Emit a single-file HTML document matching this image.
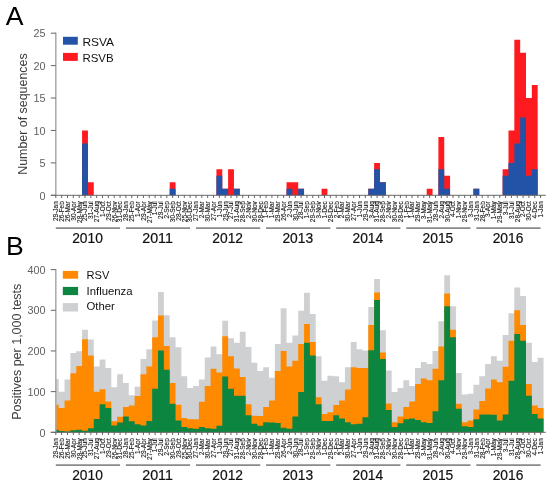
<!DOCTYPE html>
<html><head><meta charset="utf-8"><style>
html,body{margin:0;padding:0;background:#fff;}
body{width:550px;height:487px;overflow:hidden;font-family:"Liberation Sans",sans-serif;}
svg{display:block;will-change:transform;}
</style></head><body>
<svg width="550" height="487" viewBox="0 0 550 487">
<rect width="550" height="487" fill="#fff"/>
<text x="5.8" y="24.6" font-size="26.6" fill="#000" font-family="'Liberation Sans', sans-serif">A</text>
<text x="6.0" y="255.4" font-size="26.6" fill="#000" font-family="'Liberation Sans', sans-serif">B</text>
<path d="M52.88,195.30 L52.88,195.30 L58.72,195.30 L58.72,195.30 L64.56,195.30 L64.56,195.30 L70.40,195.30 L70.40,195.30 L76.24,195.30 L76.24,195.30 L82.08,195.30 L82.08,130.46 L87.93,130.46 L87.93,182.33 L93.77,182.33 L93.77,195.30 L99.61,195.30 L99.61,195.30 L105.45,195.30 L105.45,195.30 L111.29,195.30 L111.29,195.30 L117.13,195.30 L117.13,195.30 L122.97,195.30 L122.97,195.30 L128.81,195.30 L128.81,195.30 L134.65,195.30 L134.65,195.30 L140.49,195.30 L140.49,195.30 L146.34,195.30 L146.34,195.30 L152.18,195.30 L152.18,195.30 L158.02,195.30 L158.02,195.30 L163.86,195.30 L163.86,195.30 L169.70,195.30 L169.70,182.33 L175.54,182.33 L175.54,195.30 L181.38,195.30 L181.38,195.30 L187.22,195.30 L187.22,195.30 L193.06,195.30 L193.06,195.30 L198.90,195.30 L198.90,195.30 L204.75,195.30 L204.75,195.30 L210.59,195.30 L210.59,195.30 L216.43,195.30 L216.43,169.36 L222.27,169.36 L222.27,188.82 L228.11,188.82 L228.11,169.36 L233.95,169.36 L233.95,188.82 L239.79,188.82 L239.79,195.30 L245.63,195.30 L245.63,195.30 L251.47,195.30 L251.47,195.30 L257.31,195.30 L257.31,195.30 L263.16,195.30 L263.16,195.30 L269.00,195.30 L269.00,195.30 L274.84,195.30 L274.84,195.30 L280.68,195.30 L280.68,195.30 L286.52,195.30 L286.52,182.33 L292.36,182.33 L292.36,182.33 L298.20,182.33 L298.20,188.82 L304.04,188.82 L304.04,195.30 L309.88,195.30 L309.88,195.30 L315.72,195.30 L315.72,195.30 L321.57,195.30 L321.57,188.82 L327.41,188.82 L327.41,195.30 L333.25,195.30 L333.25,195.30 L339.09,195.30 L339.09,195.30 L344.93,195.30 L344.93,195.30 L350.77,195.30 L350.77,195.30 L356.61,195.30 L356.61,195.30 L362.45,195.30 L362.45,195.30 L368.29,195.30 L368.29,188.82 L374.13,188.82 L374.13,162.88 L379.98,162.88 L379.98,182.33 L385.82,182.33 L385.82,195.30 L391.66,195.30 L391.66,195.30 L397.50,195.30 L397.50,195.30 L403.34,195.30 L403.34,195.30 L409.18,195.30 L409.18,195.30 L415.02,195.30 L415.02,195.30 L420.86,195.30 L420.86,195.30 L426.70,195.30 L426.70,188.82 L432.54,188.82 L432.54,195.30 L438.39,195.30 L438.39,136.94 L444.23,136.94 L444.23,175.85 L450.07,175.85 L450.07,195.30 L455.91,195.30 L455.91,195.30 L461.75,195.30 L461.75,195.30 L467.59,195.30 L467.59,195.30 L473.43,195.30 L473.43,188.82 L479.27,188.82 L479.27,195.30 L485.11,195.30 L485.11,195.30 L490.95,195.30 L490.95,195.30 L496.80,195.30 L496.80,195.30 L502.64,195.30 L502.64,169.36 L508.48,169.36 L508.48,130.46 L514.32,130.46 L514.32,39.68 L520.16,39.68 L520.16,52.65 L526.00,52.65 L526.00,98.04 L531.84,98.04 L531.84,85.07 L537.68,85.07 L537.68,195.30 L543.52,195.30 L543.52,195.30 Z" fill="#ff1a1f"/>
<path d="M52.88,195.30 L52.88,195.30 L58.72,195.30 L58.72,195.30 L64.56,195.30 L64.56,195.30 L70.40,195.30 L70.40,195.30 L76.24,195.30 L76.24,195.30 L82.08,195.30 L82.08,143.43 L87.93,143.43 L87.93,195.30 L93.77,195.30 L93.77,195.30 L99.61,195.30 L99.61,195.30 L105.45,195.30 L105.45,195.30 L111.29,195.30 L111.29,195.30 L117.13,195.30 L117.13,195.30 L122.97,195.30 L122.97,195.30 L128.81,195.30 L128.81,195.30 L134.65,195.30 L134.65,195.30 L140.49,195.30 L140.49,195.30 L146.34,195.30 L146.34,195.30 L152.18,195.30 L152.18,195.30 L158.02,195.30 L158.02,195.30 L163.86,195.30 L163.86,195.30 L169.70,195.30 L169.70,188.82 L175.54,188.82 L175.54,195.30 L181.38,195.30 L181.38,195.30 L187.22,195.30 L187.22,195.30 L193.06,195.30 L193.06,195.30 L198.90,195.30 L198.90,195.30 L204.75,195.30 L204.75,195.30 L210.59,195.30 L210.59,195.30 L216.43,195.30 L216.43,175.85 L222.27,175.85 L222.27,188.82 L228.11,188.82 L228.11,195.30 L233.95,195.30 L233.95,188.82 L239.79,188.82 L239.79,195.30 L245.63,195.30 L245.63,195.30 L251.47,195.30 L251.47,195.30 L257.31,195.30 L257.31,195.30 L263.16,195.30 L263.16,195.30 L269.00,195.30 L269.00,195.30 L274.84,195.30 L274.84,195.30 L280.68,195.30 L280.68,195.30 L286.52,195.30 L286.52,188.82 L292.36,188.82 L292.36,195.30 L298.20,195.30 L298.20,188.82 L304.04,188.82 L304.04,195.30 L309.88,195.30 L309.88,195.30 L315.72,195.30 L315.72,195.30 L321.57,195.30 L321.57,195.30 L327.41,195.30 L327.41,195.30 L333.25,195.30 L333.25,195.30 L339.09,195.30 L339.09,195.30 L344.93,195.30 L344.93,195.30 L350.77,195.30 L350.77,195.30 L356.61,195.30 L356.61,195.30 L362.45,195.30 L362.45,195.30 L368.29,195.30 L368.29,188.82 L374.13,188.82 L374.13,169.36 L379.98,169.36 L379.98,182.33 L385.82,182.33 L385.82,195.30 L391.66,195.30 L391.66,195.30 L397.50,195.30 L397.50,195.30 L403.34,195.30 L403.34,195.30 L409.18,195.30 L409.18,195.30 L415.02,195.30 L415.02,195.30 L420.86,195.30 L420.86,195.30 L426.70,195.30 L426.70,195.30 L432.54,195.30 L432.54,195.30 L438.39,195.30 L438.39,169.36 L444.23,169.36 L444.23,188.82 L450.07,188.82 L450.07,195.30 L455.91,195.30 L455.91,195.30 L461.75,195.30 L461.75,195.30 L467.59,195.30 L467.59,195.30 L473.43,195.30 L473.43,188.82 L479.27,188.82 L479.27,195.30 L485.11,195.30 L485.11,195.30 L490.95,195.30 L490.95,195.30 L496.80,195.30 L496.80,195.30 L502.64,195.30 L502.64,175.85 L508.48,175.85 L508.48,162.88 L514.32,162.88 L514.32,143.43 L520.16,143.43 L520.16,117.49 L526.00,117.49 L526.00,175.85 L531.84,175.85 L531.84,169.36 L537.68,169.36 L537.68,195.30 L543.52,195.30 L543.52,195.30 Z" fill="#2253a6"/>
<path d="M55.80,432.30 L55.80,379.02 L58.72,379.02 L58.72,391.63 L64.56,391.63 L64.56,379.43 L70.40,379.43 L70.40,352.99 L76.24,352.99 L76.24,351.37 L82.08,351.37 L82.08,329.81 L87.93,329.81 L87.93,339.57 L93.77,339.57 L93.77,366.41 L99.61,366.41 L99.61,359.50 L105.45,359.50 L105.45,368.04 L111.29,368.04 L111.29,387.16 L117.13,387.16 L117.13,374.14 L122.97,374.14 L122.97,383.09 L128.81,383.09 L128.81,395.29 L134.65,395.29 L134.65,386.75 L140.49,386.75 L140.49,359.09 L146.34,359.09 L146.34,349.33 L152.18,349.33 L152.18,320.46 L158.02,320.46 L158.02,291.99 L163.86,291.99 L163.86,315.17 L169.70,315.17 L169.70,337.13 L175.54,337.13 L175.54,347.30 L181.38,347.30 L181.38,376.18 L187.22,376.18 L187.22,387.97 L193.06,387.97 L193.06,385.94 L198.90,385.94 L198.90,379.43 L204.75,379.43 L204.75,357.47 L210.59,357.47 L210.59,346.49 L216.43,346.49 L216.43,354.21 L222.27,354.21 L222.27,320.86 L228.11,320.86 L228.11,338.35 L233.95,338.35 L233.95,342.83 L239.79,342.83 L239.79,331.85 L245.63,331.85 L245.63,346.89 L251.47,346.89 L251.47,362.75 L257.31,362.75 L257.31,370.89 L263.16,370.89 L263.16,367.23 L269.00,367.23 L269.00,377.80 L274.84,377.80 L274.84,344.05 L280.68,344.05 L280.68,308.26 L286.52,308.26 L286.52,342.83 L292.36,342.83 L292.36,335.51 L298.20,335.51 L298.20,310.70 L304.04,310.70 L304.04,292.80 L309.88,292.80 L309.88,313.95 L315.72,313.95 L315.72,356.25 L321.57,356.25 L321.57,380.65 L327.41,380.65 L327.41,375.77 L333.25,375.77 L333.25,376.18 L339.09,376.18 L339.09,382.28 L344.93,382.28 L344.93,367.23 L350.77,367.23 L350.77,342.01 L356.61,342.01 L356.61,349.33 L362.45,349.33 L362.45,350.55 L368.29,350.55 L368.29,307.04 L374.13,307.04 L374.13,278.97 L379.98,278.97 L379.98,330.22 L385.82,330.22 L385.82,370.48 L391.66,370.48 L391.66,392.04 L397.50,392.04 L397.50,387.97 L403.34,387.97 L403.34,380.24 L409.18,380.24 L409.18,385.94 L415.02,385.94 L415.02,368.04 L420.86,368.04 L420.86,361.94 L426.70,361.94 L426.70,363.97 L432.54,363.97 L432.54,350.96 L438.39,350.96 L438.39,321.27 L444.23,321.27 L444.23,275.31 L450.07,275.31 L450.07,306.22 L455.91,306.22 L455.91,372.92 L461.75,372.92 L461.75,394.48 L467.59,394.48 L467.59,393.66 L473.43,393.66 L473.43,384.72 L479.27,384.72 L479.27,376.18 L485.11,376.18 L485.11,363.97 L490.95,363.97 L490.95,356.25 L496.80,356.25 L496.80,360.72 L502.64,360.72 L502.64,335.10 L508.48,335.10 L508.48,313.14 L514.32,313.14 L514.32,287.51 L520.16,287.51 L520.16,296.06 L526.00,296.06 L526.00,342.83 L531.84,342.83 L531.84,361.94 L537.68,361.94 L537.68,357.87 L543.52,357.87 L543.52,432.30 Z" fill="#cfd0d2"/>
<path d="M55.80,432.30 L55.80,404.64 L58.72,404.64 L58.72,407.90 L64.56,407.90 L64.56,400.58 L70.40,400.58 L70.40,373.33 L76.24,373.33 L76.24,366.01 L82.08,366.01 L82.08,339.17 L87.93,339.17 L87.93,355.43 L93.77,355.43 L93.77,391.63 L99.61,391.63 L99.61,389.19 L105.45,389.19 L105.45,401.39 L111.29,401.39 L111.29,421.32 L117.13,421.32 L117.13,416.85 L122.97,416.85 L122.97,407.08 L128.81,407.08 L128.81,405.46 L134.65,405.46 L134.65,396.10 L140.49,396.10 L140.49,374.14 L146.34,374.14 L146.34,366.41 L152.18,366.41 L152.18,337.13 L158.02,337.13 L158.02,315.58 L163.86,315.58 L163.86,346.08 L169.70,346.08 L169.70,383.09 L175.54,383.09 L175.54,404.64 L181.38,404.64 L181.38,418.07 L187.22,418.07 L187.22,419.29 L193.06,419.29 L193.06,419.29 L198.90,419.29 L198.90,401.80 L204.75,401.80 L204.75,385.94 L210.59,385.94 L210.59,368.85 L216.43,368.85 L216.43,372.52 L222.27,372.52 L222.27,336.32 L228.11,336.32 L228.11,356.25 L233.95,356.25 L233.95,368.45 L239.79,368.45 L239.79,376.99 L245.63,376.99 L245.63,404.24 L251.47,404.24 L251.47,415.63 L257.31,415.63 L257.31,416.03 L263.16,416.03 L263.16,407.08 L269.00,407.08 L269.00,400.58 L274.84,400.58 L274.84,370.89 L280.68,370.89 L280.68,350.96 L286.52,350.96 L286.52,366.41 L292.36,366.41 L292.36,360.72 L298.20,360.72 L298.20,344.05 L304.04,344.05 L304.04,324.12 L309.88,324.12 L309.88,342.01 L315.72,342.01 L315.72,397.32 L321.57,397.32 L321.57,414.00 L327.41,414.00 L327.41,412.37 L333.25,412.37 L333.25,405.05 L339.09,405.05 L339.09,400.58 L344.93,400.58 L344.93,389.60 L350.77,389.60 L350.77,367.23 L356.61,367.23 L356.61,368.04 L362.45,368.04 L362.45,368.04 L368.29,368.04 L368.29,324.93 L374.13,324.93 L374.13,292.40 L379.98,292.40 L379.98,352.59 L385.82,352.59 L385.82,403.42 L391.66,403.42 L391.66,422.13 L397.50,422.13 L397.50,416.44 L403.34,416.44 L403.34,407.08 L409.18,407.08 L409.18,401.39 L415.02,401.39 L415.02,383.90 L420.86,383.90 L420.86,378.62 L426.70,378.62 L426.70,380.24 L432.54,380.24 L432.54,368.85 L438.39,368.85 L438.39,346.49 L444.23,346.49 L444.23,293.62 L450.07,293.62 L450.07,329.81 L455.91,329.81 L455.91,403.83 L461.75,403.83 L461.75,422.13 L467.59,422.13 L467.59,420.51 L473.43,420.51 L473.43,409.52 L479.27,409.52 L479.27,400.98 L485.11,400.98 L485.11,388.38 L490.95,388.38 L490.95,379.43 L496.80,379.43 L496.80,382.28 L502.64,382.28 L502.64,366.82 L508.48,366.82 L508.48,340.79 L514.32,340.79 L514.32,310.29 L520.16,310.29 L520.16,324.93 L526.00,324.93 L526.00,383.90 L531.84,383.90 L531.84,405.46 L537.68,405.46 L537.68,407.90 L543.52,407.90 L543.52,432.30 Z" fill="#ff8a00"/>
<path d="M55.80,432.30 L55.80,429.86 L58.72,429.86 L58.72,431.08 L64.56,431.08 L64.56,431.49 L70.40,431.49 L70.40,430.27 L76.24,430.27 L76.24,429.86 L82.08,429.86 L82.08,430.67 L87.93,430.67 L87.93,428.23 L93.77,428.23 L93.77,418.88 L99.61,418.88 L99.61,404.24 L105.45,404.24 L105.45,407.90 L111.29,407.90 L111.29,425.39 L117.13,425.39 L117.13,422.54 L122.97,422.54 L122.97,416.44 L128.81,416.44 L128.81,421.32 L134.65,421.32 L134.65,424.17 L140.49,424.17 L140.49,425.39 L146.34,425.39 L146.34,420.91 L152.18,420.91 L152.18,388.78 L158.02,388.78 L158.02,350.55 L163.86,350.55 L163.86,369.67 L169.70,369.67 L169.70,403.83 L175.54,403.83 L175.54,420.51 L181.38,420.51 L181.38,427.01 L187.22,427.01 L187.22,428.23 L193.06,428.23 L193.06,428.64 L198.90,428.64 L198.90,427.01 L204.75,427.01 L204.75,428.23 L210.59,428.23 L210.59,428.64 L216.43,428.64 L216.43,425.79 L222.27,425.79 L222.27,376.58 L228.11,376.58 L228.11,388.78 L233.95,388.78 L233.95,395.70 L239.79,395.70 L239.79,395.70 L245.63,395.70 L245.63,415.22 L251.47,415.22 L251.47,423.76 L257.31,423.76 L257.31,425.79 L263.16,425.79 L263.16,422.13 L269.00,422.13 L269.00,422.54 L274.84,422.54 L274.84,422.95 L280.68,422.95 L280.68,427.83 L286.52,427.83 L286.52,428.64 L292.36,428.64 L292.36,416.44 L298.20,416.44 L298.20,392.04 L304.04,392.04 L304.04,342.83 L309.88,342.83 L309.88,355.43 L315.72,355.43 L315.72,404.24 L321.57,404.24 L321.57,420.91 L327.41,420.91 L327.41,420.91 L333.25,420.91 L333.25,415.22 L339.09,415.22 L339.09,418.47 L344.93,418.47 L344.93,422.13 L350.77,422.13 L350.77,424.17 L356.61,424.17 L356.61,423.76 L362.45,423.76 L362.45,417.25 L368.29,417.25 L368.29,350.15 L374.13,350.15 L374.13,300.12 L379.98,300.12 L379.98,359.09 L385.82,359.09 L385.82,409.93 L391.66,409.93 L391.66,427.01 L397.50,427.01 L397.50,423.35 L403.34,423.35 L403.34,419.29 L409.18,419.29 L409.18,418.47 L415.02,418.47 L415.02,420.10 L420.86,420.10 L420.86,422.13 L426.70,422.13 L426.70,422.95 L432.54,422.95 L432.54,411.15 L438.39,411.15 L438.39,380.24 L444.23,380.24 L444.23,306.22 L450.07,306.22 L450.07,337.13 L455.91,337.13 L455.91,408.71 L461.75,408.71 L461.75,426.20 L467.59,426.20 L467.59,427.01 L473.43,427.01 L473.43,419.29 L479.27,419.29 L479.27,414.41 L485.11,414.41 L485.11,414.41 L490.95,414.41 L490.95,414.81 L496.80,414.81 L496.80,420.51 L502.64,420.51 L502.64,414.41 L508.48,414.41 L508.48,380.65 L514.32,380.65 L514.32,333.88 L520.16,333.88 L520.16,340.79 L526.00,340.79 L526.00,395.70 L531.84,395.70 L531.84,414.00 L537.68,414.00 L537.68,418.47 L543.52,418.47 L543.52,432.30 Z" fill="#0c8540"/>
<line x1="55.8" y1="32.60" x2="55.8" y2="195.3" stroke="#a8a8a8" stroke-width="1.5"/>
<line x1="50.8" y1="195.30" x2="55.8" y2="195.30" stroke="#666" stroke-width="1.0"/>
<text x="45.5" y="199.50" text-anchor="end" font-size="10.8" fill="#606060" font-family="'Liberation Sans', sans-serif">0</text>
<line x1="50.8" y1="162.88" x2="55.8" y2="162.88" stroke="#666" stroke-width="1.0"/>
<text x="45.5" y="167.08" text-anchor="end" font-size="10.8" fill="#606060" font-family="'Liberation Sans', sans-serif">5</text>
<line x1="50.8" y1="130.46" x2="55.8" y2="130.46" stroke="#666" stroke-width="1.0"/>
<text x="45.5" y="134.66" text-anchor="end" font-size="10.8" fill="#606060" font-family="'Liberation Sans', sans-serif">10</text>
<line x1="50.8" y1="98.04" x2="55.8" y2="98.04" stroke="#666" stroke-width="1.0"/>
<text x="45.5" y="102.24" text-anchor="end" font-size="10.8" fill="#606060" font-family="'Liberation Sans', sans-serif">15</text>
<line x1="50.8" y1="65.62" x2="55.8" y2="65.62" stroke="#666" stroke-width="1.0"/>
<text x="45.5" y="69.82" text-anchor="end" font-size="10.8" fill="#606060" font-family="'Liberation Sans', sans-serif">20</text>
<line x1="50.8" y1="33.20" x2="55.8" y2="33.20" stroke="#666" stroke-width="1.0"/>
<text x="45.5" y="37.40" text-anchor="end" font-size="10.8" fill="#606060" font-family="'Liberation Sans', sans-serif">25</text>
<line x1="50.8" y1="195.3" x2="545.8" y2="195.3" stroke="#6a6a6a" stroke-width="1.0"/>
<line x1="55.80" y1="195.3" x2="55.80" y2="198.00" stroke="#555" stroke-width="0.9"/>
<line x1="61.64" y1="195.3" x2="61.64" y2="198.00" stroke="#555" stroke-width="0.9"/>
<line x1="67.48" y1="195.3" x2="67.48" y2="198.00" stroke="#555" stroke-width="0.9"/>
<line x1="73.32" y1="195.3" x2="73.32" y2="198.00" stroke="#555" stroke-width="0.9"/>
<line x1="79.16" y1="195.3" x2="79.16" y2="198.00" stroke="#555" stroke-width="0.9"/>
<line x1="85.00" y1="195.3" x2="85.00" y2="198.00" stroke="#555" stroke-width="0.9"/>
<line x1="90.85" y1="195.3" x2="90.85" y2="198.00" stroke="#555" stroke-width="0.9"/>
<line x1="96.69" y1="195.3" x2="96.69" y2="198.00" stroke="#555" stroke-width="0.9"/>
<line x1="102.53" y1="195.3" x2="102.53" y2="198.00" stroke="#555" stroke-width="0.9"/>
<line x1="108.37" y1="195.3" x2="108.37" y2="198.00" stroke="#555" stroke-width="0.9"/>
<line x1="114.21" y1="195.3" x2="114.21" y2="198.00" stroke="#555" stroke-width="0.9"/>
<line x1="120.05" y1="195.3" x2="120.05" y2="198.00" stroke="#555" stroke-width="0.9"/>
<line x1="125.89" y1="195.3" x2="125.89" y2="198.00" stroke="#555" stroke-width="0.9"/>
<line x1="131.73" y1="195.3" x2="131.73" y2="198.00" stroke="#555" stroke-width="0.9"/>
<line x1="137.57" y1="195.3" x2="137.57" y2="198.00" stroke="#555" stroke-width="0.9"/>
<line x1="143.42" y1="195.3" x2="143.42" y2="198.00" stroke="#555" stroke-width="0.9"/>
<line x1="149.26" y1="195.3" x2="149.26" y2="198.00" stroke="#555" stroke-width="0.9"/>
<line x1="155.10" y1="195.3" x2="155.10" y2="198.00" stroke="#555" stroke-width="0.9"/>
<line x1="160.94" y1="195.3" x2="160.94" y2="198.00" stroke="#555" stroke-width="0.9"/>
<line x1="166.78" y1="195.3" x2="166.78" y2="198.00" stroke="#555" stroke-width="0.9"/>
<line x1="172.62" y1="195.3" x2="172.62" y2="198.00" stroke="#555" stroke-width="0.9"/>
<line x1="178.46" y1="195.3" x2="178.46" y2="198.00" stroke="#555" stroke-width="0.9"/>
<line x1="184.30" y1="195.3" x2="184.30" y2="198.00" stroke="#555" stroke-width="0.9"/>
<line x1="190.14" y1="195.3" x2="190.14" y2="198.00" stroke="#555" stroke-width="0.9"/>
<line x1="195.98" y1="195.3" x2="195.98" y2="198.00" stroke="#555" stroke-width="0.9"/>
<line x1="201.82" y1="195.3" x2="201.82" y2="198.00" stroke="#555" stroke-width="0.9"/>
<line x1="207.67" y1="195.3" x2="207.67" y2="198.00" stroke="#555" stroke-width="0.9"/>
<line x1="213.51" y1="195.3" x2="213.51" y2="198.00" stroke="#555" stroke-width="0.9"/>
<line x1="219.35" y1="195.3" x2="219.35" y2="198.00" stroke="#555" stroke-width="0.9"/>
<line x1="225.19" y1="195.3" x2="225.19" y2="198.00" stroke="#555" stroke-width="0.9"/>
<line x1="231.03" y1="195.3" x2="231.03" y2="198.00" stroke="#555" stroke-width="0.9"/>
<line x1="236.87" y1="195.3" x2="236.87" y2="198.00" stroke="#555" stroke-width="0.9"/>
<line x1="242.71" y1="195.3" x2="242.71" y2="198.00" stroke="#555" stroke-width="0.9"/>
<line x1="248.55" y1="195.3" x2="248.55" y2="198.00" stroke="#555" stroke-width="0.9"/>
<line x1="254.39" y1="195.3" x2="254.39" y2="198.00" stroke="#555" stroke-width="0.9"/>
<line x1="260.24" y1="195.3" x2="260.24" y2="198.00" stroke="#555" stroke-width="0.9"/>
<line x1="266.08" y1="195.3" x2="266.08" y2="198.00" stroke="#555" stroke-width="0.9"/>
<line x1="271.92" y1="195.3" x2="271.92" y2="198.00" stroke="#555" stroke-width="0.9"/>
<line x1="277.76" y1="195.3" x2="277.76" y2="198.00" stroke="#555" stroke-width="0.9"/>
<line x1="283.60" y1="195.3" x2="283.60" y2="198.00" stroke="#555" stroke-width="0.9"/>
<line x1="289.44" y1="195.3" x2="289.44" y2="198.00" stroke="#555" stroke-width="0.9"/>
<line x1="295.28" y1="195.3" x2="295.28" y2="198.00" stroke="#555" stroke-width="0.9"/>
<line x1="301.12" y1="195.3" x2="301.12" y2="198.00" stroke="#555" stroke-width="0.9"/>
<line x1="306.96" y1="195.3" x2="306.96" y2="198.00" stroke="#555" stroke-width="0.9"/>
<line x1="312.80" y1="195.3" x2="312.80" y2="198.00" stroke="#555" stroke-width="0.9"/>
<line x1="318.65" y1="195.3" x2="318.65" y2="198.00" stroke="#555" stroke-width="0.9"/>
<line x1="324.49" y1="195.3" x2="324.49" y2="198.00" stroke="#555" stroke-width="0.9"/>
<line x1="330.33" y1="195.3" x2="330.33" y2="198.00" stroke="#555" stroke-width="0.9"/>
<line x1="336.17" y1="195.3" x2="336.17" y2="198.00" stroke="#555" stroke-width="0.9"/>
<line x1="342.01" y1="195.3" x2="342.01" y2="198.00" stroke="#555" stroke-width="0.9"/>
<line x1="347.85" y1="195.3" x2="347.85" y2="198.00" stroke="#555" stroke-width="0.9"/>
<line x1="353.69" y1="195.3" x2="353.69" y2="198.00" stroke="#555" stroke-width="0.9"/>
<line x1="359.53" y1="195.3" x2="359.53" y2="198.00" stroke="#555" stroke-width="0.9"/>
<line x1="365.37" y1="195.3" x2="365.37" y2="198.00" stroke="#555" stroke-width="0.9"/>
<line x1="371.21" y1="195.3" x2="371.21" y2="198.00" stroke="#555" stroke-width="0.9"/>
<line x1="377.06" y1="195.3" x2="377.06" y2="198.00" stroke="#555" stroke-width="0.9"/>
<line x1="382.90" y1="195.3" x2="382.90" y2="198.00" stroke="#555" stroke-width="0.9"/>
<line x1="388.74" y1="195.3" x2="388.74" y2="198.00" stroke="#555" stroke-width="0.9"/>
<line x1="394.58" y1="195.3" x2="394.58" y2="198.00" stroke="#555" stroke-width="0.9"/>
<line x1="400.42" y1="195.3" x2="400.42" y2="198.00" stroke="#555" stroke-width="0.9"/>
<line x1="406.26" y1="195.3" x2="406.26" y2="198.00" stroke="#555" stroke-width="0.9"/>
<line x1="412.10" y1="195.3" x2="412.10" y2="198.00" stroke="#555" stroke-width="0.9"/>
<line x1="417.94" y1="195.3" x2="417.94" y2="198.00" stroke="#555" stroke-width="0.9"/>
<line x1="423.78" y1="195.3" x2="423.78" y2="198.00" stroke="#555" stroke-width="0.9"/>
<line x1="429.62" y1="195.3" x2="429.62" y2="198.00" stroke="#555" stroke-width="0.9"/>
<line x1="435.47" y1="195.3" x2="435.47" y2="198.00" stroke="#555" stroke-width="0.9"/>
<line x1="441.31" y1="195.3" x2="441.31" y2="198.00" stroke="#555" stroke-width="0.9"/>
<line x1="447.15" y1="195.3" x2="447.15" y2="198.00" stroke="#555" stroke-width="0.9"/>
<line x1="452.99" y1="195.3" x2="452.99" y2="198.00" stroke="#555" stroke-width="0.9"/>
<line x1="458.83" y1="195.3" x2="458.83" y2="198.00" stroke="#555" stroke-width="0.9"/>
<line x1="464.67" y1="195.3" x2="464.67" y2="198.00" stroke="#555" stroke-width="0.9"/>
<line x1="470.51" y1="195.3" x2="470.51" y2="198.00" stroke="#555" stroke-width="0.9"/>
<line x1="476.35" y1="195.3" x2="476.35" y2="198.00" stroke="#555" stroke-width="0.9"/>
<line x1="482.19" y1="195.3" x2="482.19" y2="198.00" stroke="#555" stroke-width="0.9"/>
<line x1="488.03" y1="195.3" x2="488.03" y2="198.00" stroke="#555" stroke-width="0.9"/>
<line x1="493.88" y1="195.3" x2="493.88" y2="198.00" stroke="#555" stroke-width="0.9"/>
<line x1="499.72" y1="195.3" x2="499.72" y2="198.00" stroke="#555" stroke-width="0.9"/>
<line x1="505.56" y1="195.3" x2="505.56" y2="198.00" stroke="#555" stroke-width="0.9"/>
<line x1="511.40" y1="195.3" x2="511.40" y2="198.00" stroke="#555" stroke-width="0.9"/>
<line x1="517.24" y1="195.3" x2="517.24" y2="198.00" stroke="#555" stroke-width="0.9"/>
<line x1="523.08" y1="195.3" x2="523.08" y2="198.00" stroke="#555" stroke-width="0.9"/>
<line x1="528.92" y1="195.3" x2="528.92" y2="198.00" stroke="#555" stroke-width="0.9"/>
<line x1="534.76" y1="195.3" x2="534.76" y2="198.00" stroke="#555" stroke-width="0.9"/>
<line x1="540.60" y1="195.3" x2="540.60" y2="198.00" stroke="#555" stroke-width="0.9"/>
<text transform="translate(58.15,201.20) rotate(-90)" text-anchor="end" font-size="6.5" fill="#1a1a1a" stroke="#1a1a1a" stroke-width="0.12" font-family="'Liberation Sans', sans-serif">29-Jan</text>
<text transform="translate(63.99,201.20) rotate(-90)" text-anchor="end" font-size="6.5" fill="#1a1a1a" stroke="#1a1a1a" stroke-width="0.12" font-family="'Liberation Sans', sans-serif">26-Feb</text>
<text transform="translate(69.83,201.20) rotate(-90)" text-anchor="end" font-size="6.5" fill="#1a1a1a" stroke="#1a1a1a" stroke-width="0.12" font-family="'Liberation Sans', sans-serif">26-Mar</text>
<text transform="translate(75.67,201.20) rotate(-90)" text-anchor="end" font-size="6.5" fill="#1a1a1a" stroke="#1a1a1a" stroke-width="0.12" font-family="'Liberation Sans', sans-serif">30-Apr</text>
<text transform="translate(81.51,201.20) rotate(-90)" text-anchor="end" font-size="6.5" fill="#1a1a1a" stroke="#1a1a1a" stroke-width="0.12" font-family="'Liberation Sans', sans-serif">28-May</text>
<text transform="translate(87.35,201.20) rotate(-90)" text-anchor="end" font-size="6.5" fill="#1a1a1a" stroke="#1a1a1a" stroke-width="0.12" font-family="'Liberation Sans', sans-serif">25-Jun</text>
<text transform="translate(93.20,201.20) rotate(-90)" text-anchor="end" font-size="6.5" fill="#1a1a1a" stroke="#1a1a1a" stroke-width="0.12" font-family="'Liberation Sans', sans-serif">31-Jul</text>
<text transform="translate(99.04,201.20) rotate(-90)" text-anchor="end" font-size="6.5" fill="#1a1a1a" stroke="#1a1a1a" stroke-width="0.12" font-family="'Liberation Sans', sans-serif">27-Aug</text>
<text transform="translate(104.88,201.20) rotate(-90)" text-anchor="end" font-size="6.5" fill="#1a1a1a" stroke="#1a1a1a" stroke-width="0.12" font-family="'Liberation Sans', sans-serif">1-Oct</text>
<text transform="translate(110.72,201.20) rotate(-90)" text-anchor="end" font-size="6.5" fill="#1a1a1a" stroke="#1a1a1a" stroke-width="0.12" font-family="'Liberation Sans', sans-serif">29-Oct</text>
<text transform="translate(116.56,201.20) rotate(-90)" text-anchor="end" font-size="6.5" fill="#1a1a1a" stroke="#1a1a1a" stroke-width="0.12" font-family="'Liberation Sans', sans-serif">26-Nov</text>
<text transform="translate(122.40,201.20) rotate(-90)" text-anchor="end" font-size="6.5" fill="#1a1a1a" stroke="#1a1a1a" stroke-width="0.12" font-family="'Liberation Sans', sans-serif">31-Dec</text>
<text transform="translate(128.24,201.20) rotate(-90)" text-anchor="end" font-size="6.5" fill="#1a1a1a" stroke="#1a1a1a" stroke-width="0.12" font-family="'Liberation Sans', sans-serif">28-Jan</text>
<text transform="translate(134.08,201.20) rotate(-90)" text-anchor="end" font-size="6.5" fill="#1a1a1a" stroke="#1a1a1a" stroke-width="0.12" font-family="'Liberation Sans', sans-serif">25-Feb</text>
<text transform="translate(139.92,201.20) rotate(-90)" text-anchor="end" font-size="6.5" fill="#1a1a1a" stroke="#1a1a1a" stroke-width="0.12" font-family="'Liberation Sans', sans-serif">1-Apr</text>
<text transform="translate(145.77,201.20) rotate(-90)" text-anchor="end" font-size="6.5" fill="#1a1a1a" stroke="#1a1a1a" stroke-width="0.12" font-family="'Liberation Sans', sans-serif">29-Apr</text>
<text transform="translate(151.61,201.20) rotate(-90)" text-anchor="end" font-size="6.5" fill="#1a1a1a" stroke="#1a1a1a" stroke-width="0.12" font-family="'Liberation Sans', sans-serif">27-May</text>
<text transform="translate(157.45,201.20) rotate(-90)" text-anchor="end" font-size="6.5" fill="#1a1a1a" stroke="#1a1a1a" stroke-width="0.12" font-family="'Liberation Sans', sans-serif">1-Jul</text>
<text transform="translate(163.29,201.20) rotate(-90)" text-anchor="end" font-size="6.5" fill="#1a1a1a" stroke="#1a1a1a" stroke-width="0.12" font-family="'Liberation Sans', sans-serif">29-Jul</text>
<text transform="translate(169.13,201.20) rotate(-90)" text-anchor="end" font-size="6.5" fill="#1a1a1a" stroke="#1a1a1a" stroke-width="0.12" font-family="'Liberation Sans', sans-serif">2-Sep</text>
<text transform="translate(174.97,201.20) rotate(-90)" text-anchor="end" font-size="6.5" fill="#1a1a1a" stroke="#1a1a1a" stroke-width="0.12" font-family="'Liberation Sans', sans-serif">30-Sep</text>
<text transform="translate(180.81,201.20) rotate(-90)" text-anchor="end" font-size="6.5" fill="#1a1a1a" stroke="#1a1a1a" stroke-width="0.12" font-family="'Liberation Sans', sans-serif">28-Oct</text>
<text transform="translate(186.65,201.20) rotate(-90)" text-anchor="end" font-size="6.5" fill="#1a1a1a" stroke="#1a1a1a" stroke-width="0.12" font-family="'Liberation Sans', sans-serif">25-Nov</text>
<text transform="translate(192.49,201.20) rotate(-90)" text-anchor="end" font-size="6.5" fill="#1a1a1a" stroke="#1a1a1a" stroke-width="0.12" font-family="'Liberation Sans', sans-serif">30-Dec</text>
<text transform="translate(198.33,201.20) rotate(-90)" text-anchor="end" font-size="6.5" fill="#1a1a1a" stroke="#1a1a1a" stroke-width="0.12" font-family="'Liberation Sans', sans-serif">27-Jan</text>
<text transform="translate(204.17,201.20) rotate(-90)" text-anchor="end" font-size="6.5" fill="#1a1a1a" stroke="#1a1a1a" stroke-width="0.12" font-family="'Liberation Sans', sans-serif">2-Mar</text>
<text transform="translate(210.02,201.20) rotate(-90)" text-anchor="end" font-size="6.5" fill="#1a1a1a" stroke="#1a1a1a" stroke-width="0.12" font-family="'Liberation Sans', sans-serif">30-Mar</text>
<text transform="translate(215.86,201.20) rotate(-90)" text-anchor="end" font-size="6.5" fill="#1a1a1a" stroke="#1a1a1a" stroke-width="0.12" font-family="'Liberation Sans', sans-serif">27-Apr</text>
<text transform="translate(221.70,201.20) rotate(-90)" text-anchor="end" font-size="6.5" fill="#1a1a1a" stroke="#1a1a1a" stroke-width="0.12" font-family="'Liberation Sans', sans-serif">1-Jun</text>
<text transform="translate(227.54,201.20) rotate(-90)" text-anchor="end" font-size="6.5" fill="#1a1a1a" stroke="#1a1a1a" stroke-width="0.12" font-family="'Liberation Sans', sans-serif">29-Jun</text>
<text transform="translate(233.38,201.20) rotate(-90)" text-anchor="end" font-size="6.5" fill="#1a1a1a" stroke="#1a1a1a" stroke-width="0.12" font-family="'Liberation Sans', sans-serif">27-Jul</text>
<text transform="translate(239.22,201.20) rotate(-90)" text-anchor="end" font-size="6.5" fill="#1a1a1a" stroke="#1a1a1a" stroke-width="0.12" font-family="'Liberation Sans', sans-serif">31-Aug</text>
<text transform="translate(245.06,201.20) rotate(-90)" text-anchor="end" font-size="6.5" fill="#1a1a1a" stroke="#1a1a1a" stroke-width="0.12" font-family="'Liberation Sans', sans-serif">28-Sep</text>
<text transform="translate(250.90,201.20) rotate(-90)" text-anchor="end" font-size="6.5" fill="#1a1a1a" stroke="#1a1a1a" stroke-width="0.12" font-family="'Liberation Sans', sans-serif">2-Nov</text>
<text transform="translate(256.74,201.20) rotate(-90)" text-anchor="end" font-size="6.5" fill="#1a1a1a" stroke="#1a1a1a" stroke-width="0.12" font-family="'Liberation Sans', sans-serif">30-Nov</text>
<text transform="translate(262.59,201.20) rotate(-90)" text-anchor="end" font-size="6.5" fill="#1a1a1a" stroke="#1a1a1a" stroke-width="0.12" font-family="'Liberation Sans', sans-serif">28-Dec</text>
<text transform="translate(268.43,201.20) rotate(-90)" text-anchor="end" font-size="6.5" fill="#1a1a1a" stroke="#1a1a1a" stroke-width="0.12" font-family="'Liberation Sans', sans-serif">1-Feb</text>
<text transform="translate(274.27,201.20) rotate(-90)" text-anchor="end" font-size="6.5" fill="#1a1a1a" stroke="#1a1a1a" stroke-width="0.12" font-family="'Liberation Sans', sans-serif">1-Mar</text>
<text transform="translate(280.11,201.20) rotate(-90)" text-anchor="end" font-size="6.5" fill="#1a1a1a" stroke="#1a1a1a" stroke-width="0.12" font-family="'Liberation Sans', sans-serif">29-Mar</text>
<text transform="translate(285.95,201.20) rotate(-90)" text-anchor="end" font-size="6.5" fill="#1a1a1a" stroke="#1a1a1a" stroke-width="0.12" font-family="'Liberation Sans', sans-serif">26-Apr</text>
<text transform="translate(291.79,201.20) rotate(-90)" text-anchor="end" font-size="6.5" fill="#1a1a1a" stroke="#1a1a1a" stroke-width="0.12" font-family="'Liberation Sans', sans-serif">2-Jun</text>
<text transform="translate(297.63,201.20) rotate(-90)" text-anchor="end" font-size="6.5" fill="#1a1a1a" stroke="#1a1a1a" stroke-width="0.12" font-family="'Liberation Sans', sans-serif">30-Jun</text>
<text transform="translate(303.47,201.20) rotate(-90)" text-anchor="end" font-size="6.5" fill="#1a1a1a" stroke="#1a1a1a" stroke-width="0.12" font-family="'Liberation Sans', sans-serif">28-Jul</text>
<text transform="translate(309.31,201.20) rotate(-90)" text-anchor="end" font-size="6.5" fill="#1a1a1a" stroke="#1a1a1a" stroke-width="0.12" font-family="'Liberation Sans', sans-serif">1-Sep</text>
<text transform="translate(315.15,201.20) rotate(-90)" text-anchor="end" font-size="6.5" fill="#1a1a1a" stroke="#1a1a1a" stroke-width="0.12" font-family="'Liberation Sans', sans-serif">29-Sep</text>
<text transform="translate(321.00,201.20) rotate(-90)" text-anchor="end" font-size="6.5" fill="#1a1a1a" stroke="#1a1a1a" stroke-width="0.12" font-family="'Liberation Sans', sans-serif">3-Nov</text>
<text transform="translate(326.84,201.20) rotate(-90)" text-anchor="end" font-size="6.5" fill="#1a1a1a" stroke="#1a1a1a" stroke-width="0.12" font-family="'Liberation Sans', sans-serif">1-Dec</text>
<text transform="translate(332.68,201.20) rotate(-90)" text-anchor="end" font-size="6.5" fill="#1a1a1a" stroke="#1a1a1a" stroke-width="0.12" font-family="'Liberation Sans', sans-serif">29-Dec</text>
<text transform="translate(338.52,201.20) rotate(-90)" text-anchor="end" font-size="6.5" fill="#1a1a1a" stroke="#1a1a1a" stroke-width="0.12" font-family="'Liberation Sans', sans-serif">2-Feb</text>
<text transform="translate(344.36,201.20) rotate(-90)" text-anchor="end" font-size="6.5" fill="#1a1a1a" stroke="#1a1a1a" stroke-width="0.12" font-family="'Liberation Sans', sans-serif">2-Mar</text>
<text transform="translate(350.20,201.20) rotate(-90)" text-anchor="end" font-size="6.5" fill="#1a1a1a" stroke="#1a1a1a" stroke-width="0.12" font-family="'Liberation Sans', sans-serif">30-Mar</text>
<text transform="translate(356.04,201.20) rotate(-90)" text-anchor="end" font-size="6.5" fill="#1a1a1a" stroke="#1a1a1a" stroke-width="0.12" font-family="'Liberation Sans', sans-serif">27-Apr</text>
<text transform="translate(361.88,201.20) rotate(-90)" text-anchor="end" font-size="6.5" fill="#1a1a1a" stroke="#1a1a1a" stroke-width="0.12" font-family="'Liberation Sans', sans-serif">1-Jun</text>
<text transform="translate(367.72,201.20) rotate(-90)" text-anchor="end" font-size="6.5" fill="#1a1a1a" stroke="#1a1a1a" stroke-width="0.12" font-family="'Liberation Sans', sans-serif">29-Jun</text>
<text transform="translate(373.56,201.20) rotate(-90)" text-anchor="end" font-size="6.5" fill="#1a1a1a" stroke="#1a1a1a" stroke-width="0.12" font-family="'Liberation Sans', sans-serif">3-Aug</text>
<text transform="translate(379.41,201.20) rotate(-90)" text-anchor="end" font-size="6.5" fill="#1a1a1a" stroke="#1a1a1a" stroke-width="0.12" font-family="'Liberation Sans', sans-serif">31-Aug</text>
<text transform="translate(385.25,201.20) rotate(-90)" text-anchor="end" font-size="6.5" fill="#1a1a1a" stroke="#1a1a1a" stroke-width="0.12" font-family="'Liberation Sans', sans-serif">28-Sep</text>
<text transform="translate(391.09,201.20) rotate(-90)" text-anchor="end" font-size="6.5" fill="#1a1a1a" stroke="#1a1a1a" stroke-width="0.12" font-family="'Liberation Sans', sans-serif">2-Nov</text>
<text transform="translate(396.93,201.20) rotate(-90)" text-anchor="end" font-size="6.5" fill="#1a1a1a" stroke="#1a1a1a" stroke-width="0.12" font-family="'Liberation Sans', sans-serif">30-Nov</text>
<text transform="translate(402.77,201.20) rotate(-90)" text-anchor="end" font-size="6.5" fill="#1a1a1a" stroke="#1a1a1a" stroke-width="0.12" font-family="'Liberation Sans', sans-serif">28-Dec</text>
<text transform="translate(408.61,201.20) rotate(-90)" text-anchor="end" font-size="6.5" fill="#1a1a1a" stroke="#1a1a1a" stroke-width="0.12" font-family="'Liberation Sans', sans-serif">1-Feb</text>
<text transform="translate(414.45,201.20) rotate(-90)" text-anchor="end" font-size="6.5" fill="#1a1a1a" stroke="#1a1a1a" stroke-width="0.12" font-family="'Liberation Sans', sans-serif">1-Mar</text>
<text transform="translate(420.29,201.20) rotate(-90)" text-anchor="end" font-size="6.5" fill="#1a1a1a" stroke="#1a1a1a" stroke-width="0.12" font-family="'Liberation Sans', sans-serif">29-Mar</text>
<text transform="translate(426.13,201.20) rotate(-90)" text-anchor="end" font-size="6.5" fill="#1a1a1a" stroke="#1a1a1a" stroke-width="0.12" font-family="'Liberation Sans', sans-serif">3-May</text>
<text transform="translate(431.97,201.20) rotate(-90)" text-anchor="end" font-size="6.5" fill="#1a1a1a" stroke="#1a1a1a" stroke-width="0.12" font-family="'Liberation Sans', sans-serif">31-May</text>
<text transform="translate(437.82,201.20) rotate(-90)" text-anchor="end" font-size="6.5" fill="#1a1a1a" stroke="#1a1a1a" stroke-width="0.12" font-family="'Liberation Sans', sans-serif">28-Jun</text>
<text transform="translate(443.66,201.20) rotate(-90)" text-anchor="end" font-size="6.5" fill="#1a1a1a" stroke="#1a1a1a" stroke-width="0.12" font-family="'Liberation Sans', sans-serif">2-Aug</text>
<text transform="translate(449.50,201.20) rotate(-90)" text-anchor="end" font-size="6.5" fill="#1a1a1a" stroke="#1a1a1a" stroke-width="0.12" font-family="'Liberation Sans', sans-serif">30-Aug</text>
<text transform="translate(455.34,201.20) rotate(-90)" text-anchor="end" font-size="6.5" fill="#1a1a1a" stroke="#1a1a1a" stroke-width="0.12" font-family="'Liberation Sans', sans-serif">4-Oct</text>
<text transform="translate(461.18,201.20) rotate(-90)" text-anchor="end" font-size="6.5" fill="#1a1a1a" stroke="#1a1a1a" stroke-width="0.12" font-family="'Liberation Sans', sans-serif">1-Nov</text>
<text transform="translate(467.02,201.20) rotate(-90)" text-anchor="end" font-size="6.5" fill="#1a1a1a" stroke="#1a1a1a" stroke-width="0.12" font-family="'Liberation Sans', sans-serif">29-Nov</text>
<text transform="translate(472.86,201.20) rotate(-90)" text-anchor="end" font-size="6.5" fill="#1a1a1a" stroke="#1a1a1a" stroke-width="0.12" font-family="'Liberation Sans', sans-serif">3-Jan</text>
<text transform="translate(478.70,201.20) rotate(-90)" text-anchor="end" font-size="6.5" fill="#1a1a1a" stroke="#1a1a1a" stroke-width="0.12" font-family="'Liberation Sans', sans-serif">31-Jan</text>
<text transform="translate(484.54,201.20) rotate(-90)" text-anchor="end" font-size="6.5" fill="#1a1a1a" stroke="#1a1a1a" stroke-width="0.12" font-family="'Liberation Sans', sans-serif">28-Feb</text>
<text transform="translate(490.38,201.20) rotate(-90)" text-anchor="end" font-size="6.5" fill="#1a1a1a" stroke="#1a1a1a" stroke-width="0.12" font-family="'Liberation Sans', sans-serif">3-Apr</text>
<text transform="translate(496.23,201.20) rotate(-90)" text-anchor="end" font-size="6.5" fill="#1a1a1a" stroke="#1a1a1a" stroke-width="0.12" font-family="'Liberation Sans', sans-serif">1-May</text>
<text transform="translate(502.07,201.20) rotate(-90)" text-anchor="end" font-size="6.5" fill="#1a1a1a" stroke="#1a1a1a" stroke-width="0.12" font-family="'Liberation Sans', sans-serif">29-May</text>
<text transform="translate(507.91,201.20) rotate(-90)" text-anchor="end" font-size="6.5" fill="#1a1a1a" stroke="#1a1a1a" stroke-width="0.12" font-family="'Liberation Sans', sans-serif">3-Jul</text>
<text transform="translate(513.75,201.20) rotate(-90)" text-anchor="end" font-size="6.5" fill="#1a1a1a" stroke="#1a1a1a" stroke-width="0.12" font-family="'Liberation Sans', sans-serif">31-Jul</text>
<text transform="translate(519.59,201.20) rotate(-90)" text-anchor="end" font-size="6.5" fill="#1a1a1a" stroke="#1a1a1a" stroke-width="0.12" font-family="'Liberation Sans', sans-serif">28-Aug</text>
<text transform="translate(525.43,201.20) rotate(-90)" text-anchor="end" font-size="6.5" fill="#1a1a1a" stroke="#1a1a1a" stroke-width="0.12" font-family="'Liberation Sans', sans-serif">2-Oct</text>
<text transform="translate(531.27,201.20) rotate(-90)" text-anchor="end" font-size="6.5" fill="#1a1a1a" stroke="#1a1a1a" stroke-width="0.12" font-family="'Liberation Sans', sans-serif">30-Oct</text>
<text transform="translate(537.11,201.20) rotate(-90)" text-anchor="end" font-size="6.5" fill="#1a1a1a" stroke="#1a1a1a" stroke-width="0.12" font-family="'Liberation Sans', sans-serif">4-Dec</text>
<text transform="translate(542.95,201.20) rotate(-90)" text-anchor="end" font-size="6.5" fill="#1a1a1a" stroke="#1a1a1a" stroke-width="0.12" font-family="'Liberation Sans', sans-serif">1-Jan</text>
<line x1="55.80" y1="228.10" x2="120.05" y2="228.10" stroke="#8a8a8a" stroke-width="1.6"/>
<text x="87.48" y="243.20" text-anchor="middle" font-size="14.1" textLength="30.7" stroke="#111" stroke-width="0.2" lengthAdjust="spacingAndGlyphs" fill="#111" font-family="'Liberation Sans', sans-serif">2010</text>
<line x1="125.89" y1="228.10" x2="190.14" y2="228.10" stroke="#8a8a8a" stroke-width="1.6"/>
<text x="157.57" y="243.20" text-anchor="middle" font-size="14.1" textLength="30.7" stroke="#111" stroke-width="0.2" lengthAdjust="spacingAndGlyphs" fill="#111" font-family="'Liberation Sans', sans-serif">2011</text>
<line x1="195.98" y1="228.10" x2="260.24" y2="228.10" stroke="#8a8a8a" stroke-width="1.6"/>
<text x="227.66" y="243.20" text-anchor="middle" font-size="14.1" textLength="30.7" stroke="#111" stroke-width="0.2" lengthAdjust="spacingAndGlyphs" fill="#111" font-family="'Liberation Sans', sans-serif">2012</text>
<line x1="266.08" y1="228.10" x2="330.33" y2="228.10" stroke="#8a8a8a" stroke-width="1.6"/>
<text x="297.75" y="243.20" text-anchor="middle" font-size="14.1" textLength="30.7" stroke="#111" stroke-width="0.2" lengthAdjust="spacingAndGlyphs" fill="#111" font-family="'Liberation Sans', sans-serif">2013</text>
<line x1="336.17" y1="228.10" x2="400.42" y2="228.10" stroke="#8a8a8a" stroke-width="1.6"/>
<text x="367.84" y="243.20" text-anchor="middle" font-size="14.1" textLength="30.7" stroke="#111" stroke-width="0.2" lengthAdjust="spacingAndGlyphs" fill="#111" font-family="'Liberation Sans', sans-serif">2014</text>
<line x1="406.26" y1="228.10" x2="470.51" y2="228.10" stroke="#8a8a8a" stroke-width="1.6"/>
<text x="437.94" y="243.20" text-anchor="middle" font-size="14.1" textLength="30.7" stroke="#111" stroke-width="0.2" lengthAdjust="spacingAndGlyphs" fill="#111" font-family="'Liberation Sans', sans-serif">2015</text>
<line x1="476.35" y1="228.10" x2="540.60" y2="228.10" stroke="#8a8a8a" stroke-width="1.6"/>
<text x="508.03" y="243.20" text-anchor="middle" font-size="14.1" textLength="30.7" stroke="#111" stroke-width="0.2" lengthAdjust="spacingAndGlyphs" fill="#111" font-family="'Liberation Sans', sans-serif">2016</text>
<line x1="55.8" y1="269.02" x2="55.8" y2="432.3" stroke="#a8a8a8" stroke-width="1.5"/>
<line x1="50.8" y1="432.30" x2="55.8" y2="432.30" stroke="#666" stroke-width="1.0"/>
<text x="45.5" y="436.50" text-anchor="end" font-size="10.8" fill="#606060" font-family="'Liberation Sans', sans-serif">0</text>
<line x1="50.8" y1="391.63" x2="55.8" y2="391.63" stroke="#666" stroke-width="1.0"/>
<text x="45.5" y="395.83" text-anchor="end" font-size="10.8" fill="#606060" font-family="'Liberation Sans', sans-serif">100</text>
<line x1="50.8" y1="350.96" x2="55.8" y2="350.96" stroke="#666" stroke-width="1.0"/>
<text x="45.5" y="355.16" text-anchor="end" font-size="10.8" fill="#606060" font-family="'Liberation Sans', sans-serif">200</text>
<line x1="50.8" y1="310.29" x2="55.8" y2="310.29" stroke="#666" stroke-width="1.0"/>
<text x="45.5" y="314.49" text-anchor="end" font-size="10.8" fill="#606060" font-family="'Liberation Sans', sans-serif">300</text>
<line x1="50.8" y1="269.62" x2="55.8" y2="269.62" stroke="#666" stroke-width="1.0"/>
<text x="45.5" y="273.82" text-anchor="end" font-size="10.8" fill="#606060" font-family="'Liberation Sans', sans-serif">400</text>
<line x1="50.8" y1="432.3" x2="545.8" y2="432.3" stroke="#6a6a6a" stroke-width="1.0"/>
<line x1="55.80" y1="432.3" x2="55.80" y2="435.00" stroke="#555" stroke-width="0.9"/>
<line x1="61.64" y1="432.3" x2="61.64" y2="435.00" stroke="#555" stroke-width="0.9"/>
<line x1="67.48" y1="432.3" x2="67.48" y2="435.00" stroke="#555" stroke-width="0.9"/>
<line x1="73.32" y1="432.3" x2="73.32" y2="435.00" stroke="#555" stroke-width="0.9"/>
<line x1="79.16" y1="432.3" x2="79.16" y2="435.00" stroke="#555" stroke-width="0.9"/>
<line x1="85.00" y1="432.3" x2="85.00" y2="435.00" stroke="#555" stroke-width="0.9"/>
<line x1="90.85" y1="432.3" x2="90.85" y2="435.00" stroke="#555" stroke-width="0.9"/>
<line x1="96.69" y1="432.3" x2="96.69" y2="435.00" stroke="#555" stroke-width="0.9"/>
<line x1="102.53" y1="432.3" x2="102.53" y2="435.00" stroke="#555" stroke-width="0.9"/>
<line x1="108.37" y1="432.3" x2="108.37" y2="435.00" stroke="#555" stroke-width="0.9"/>
<line x1="114.21" y1="432.3" x2="114.21" y2="435.00" stroke="#555" stroke-width="0.9"/>
<line x1="120.05" y1="432.3" x2="120.05" y2="435.00" stroke="#555" stroke-width="0.9"/>
<line x1="125.89" y1="432.3" x2="125.89" y2="435.00" stroke="#555" stroke-width="0.9"/>
<line x1="131.73" y1="432.3" x2="131.73" y2="435.00" stroke="#555" stroke-width="0.9"/>
<line x1="137.57" y1="432.3" x2="137.57" y2="435.00" stroke="#555" stroke-width="0.9"/>
<line x1="143.42" y1="432.3" x2="143.42" y2="435.00" stroke="#555" stroke-width="0.9"/>
<line x1="149.26" y1="432.3" x2="149.26" y2="435.00" stroke="#555" stroke-width="0.9"/>
<line x1="155.10" y1="432.3" x2="155.10" y2="435.00" stroke="#555" stroke-width="0.9"/>
<line x1="160.94" y1="432.3" x2="160.94" y2="435.00" stroke="#555" stroke-width="0.9"/>
<line x1="166.78" y1="432.3" x2="166.78" y2="435.00" stroke="#555" stroke-width="0.9"/>
<line x1="172.62" y1="432.3" x2="172.62" y2="435.00" stroke="#555" stroke-width="0.9"/>
<line x1="178.46" y1="432.3" x2="178.46" y2="435.00" stroke="#555" stroke-width="0.9"/>
<line x1="184.30" y1="432.3" x2="184.30" y2="435.00" stroke="#555" stroke-width="0.9"/>
<line x1="190.14" y1="432.3" x2="190.14" y2="435.00" stroke="#555" stroke-width="0.9"/>
<line x1="195.98" y1="432.3" x2="195.98" y2="435.00" stroke="#555" stroke-width="0.9"/>
<line x1="201.82" y1="432.3" x2="201.82" y2="435.00" stroke="#555" stroke-width="0.9"/>
<line x1="207.67" y1="432.3" x2="207.67" y2="435.00" stroke="#555" stroke-width="0.9"/>
<line x1="213.51" y1="432.3" x2="213.51" y2="435.00" stroke="#555" stroke-width="0.9"/>
<line x1="219.35" y1="432.3" x2="219.35" y2="435.00" stroke="#555" stroke-width="0.9"/>
<line x1="225.19" y1="432.3" x2="225.19" y2="435.00" stroke="#555" stroke-width="0.9"/>
<line x1="231.03" y1="432.3" x2="231.03" y2="435.00" stroke="#555" stroke-width="0.9"/>
<line x1="236.87" y1="432.3" x2="236.87" y2="435.00" stroke="#555" stroke-width="0.9"/>
<line x1="242.71" y1="432.3" x2="242.71" y2="435.00" stroke="#555" stroke-width="0.9"/>
<line x1="248.55" y1="432.3" x2="248.55" y2="435.00" stroke="#555" stroke-width="0.9"/>
<line x1="254.39" y1="432.3" x2="254.39" y2="435.00" stroke="#555" stroke-width="0.9"/>
<line x1="260.24" y1="432.3" x2="260.24" y2="435.00" stroke="#555" stroke-width="0.9"/>
<line x1="266.08" y1="432.3" x2="266.08" y2="435.00" stroke="#555" stroke-width="0.9"/>
<line x1="271.92" y1="432.3" x2="271.92" y2="435.00" stroke="#555" stroke-width="0.9"/>
<line x1="277.76" y1="432.3" x2="277.76" y2="435.00" stroke="#555" stroke-width="0.9"/>
<line x1="283.60" y1="432.3" x2="283.60" y2="435.00" stroke="#555" stroke-width="0.9"/>
<line x1="289.44" y1="432.3" x2="289.44" y2="435.00" stroke="#555" stroke-width="0.9"/>
<line x1="295.28" y1="432.3" x2="295.28" y2="435.00" stroke="#555" stroke-width="0.9"/>
<line x1="301.12" y1="432.3" x2="301.12" y2="435.00" stroke="#555" stroke-width="0.9"/>
<line x1="306.96" y1="432.3" x2="306.96" y2="435.00" stroke="#555" stroke-width="0.9"/>
<line x1="312.80" y1="432.3" x2="312.80" y2="435.00" stroke="#555" stroke-width="0.9"/>
<line x1="318.65" y1="432.3" x2="318.65" y2="435.00" stroke="#555" stroke-width="0.9"/>
<line x1="324.49" y1="432.3" x2="324.49" y2="435.00" stroke="#555" stroke-width="0.9"/>
<line x1="330.33" y1="432.3" x2="330.33" y2="435.00" stroke="#555" stroke-width="0.9"/>
<line x1="336.17" y1="432.3" x2="336.17" y2="435.00" stroke="#555" stroke-width="0.9"/>
<line x1="342.01" y1="432.3" x2="342.01" y2="435.00" stroke="#555" stroke-width="0.9"/>
<line x1="347.85" y1="432.3" x2="347.85" y2="435.00" stroke="#555" stroke-width="0.9"/>
<line x1="353.69" y1="432.3" x2="353.69" y2="435.00" stroke="#555" stroke-width="0.9"/>
<line x1="359.53" y1="432.3" x2="359.53" y2="435.00" stroke="#555" stroke-width="0.9"/>
<line x1="365.37" y1="432.3" x2="365.37" y2="435.00" stroke="#555" stroke-width="0.9"/>
<line x1="371.21" y1="432.3" x2="371.21" y2="435.00" stroke="#555" stroke-width="0.9"/>
<line x1="377.06" y1="432.3" x2="377.06" y2="435.00" stroke="#555" stroke-width="0.9"/>
<line x1="382.90" y1="432.3" x2="382.90" y2="435.00" stroke="#555" stroke-width="0.9"/>
<line x1="388.74" y1="432.3" x2="388.74" y2="435.00" stroke="#555" stroke-width="0.9"/>
<line x1="394.58" y1="432.3" x2="394.58" y2="435.00" stroke="#555" stroke-width="0.9"/>
<line x1="400.42" y1="432.3" x2="400.42" y2="435.00" stroke="#555" stroke-width="0.9"/>
<line x1="406.26" y1="432.3" x2="406.26" y2="435.00" stroke="#555" stroke-width="0.9"/>
<line x1="412.10" y1="432.3" x2="412.10" y2="435.00" stroke="#555" stroke-width="0.9"/>
<line x1="417.94" y1="432.3" x2="417.94" y2="435.00" stroke="#555" stroke-width="0.9"/>
<line x1="423.78" y1="432.3" x2="423.78" y2="435.00" stroke="#555" stroke-width="0.9"/>
<line x1="429.62" y1="432.3" x2="429.62" y2="435.00" stroke="#555" stroke-width="0.9"/>
<line x1="435.47" y1="432.3" x2="435.47" y2="435.00" stroke="#555" stroke-width="0.9"/>
<line x1="441.31" y1="432.3" x2="441.31" y2="435.00" stroke="#555" stroke-width="0.9"/>
<line x1="447.15" y1="432.3" x2="447.15" y2="435.00" stroke="#555" stroke-width="0.9"/>
<line x1="452.99" y1="432.3" x2="452.99" y2="435.00" stroke="#555" stroke-width="0.9"/>
<line x1="458.83" y1="432.3" x2="458.83" y2="435.00" stroke="#555" stroke-width="0.9"/>
<line x1="464.67" y1="432.3" x2="464.67" y2="435.00" stroke="#555" stroke-width="0.9"/>
<line x1="470.51" y1="432.3" x2="470.51" y2="435.00" stroke="#555" stroke-width="0.9"/>
<line x1="476.35" y1="432.3" x2="476.35" y2="435.00" stroke="#555" stroke-width="0.9"/>
<line x1="482.19" y1="432.3" x2="482.19" y2="435.00" stroke="#555" stroke-width="0.9"/>
<line x1="488.03" y1="432.3" x2="488.03" y2="435.00" stroke="#555" stroke-width="0.9"/>
<line x1="493.88" y1="432.3" x2="493.88" y2="435.00" stroke="#555" stroke-width="0.9"/>
<line x1="499.72" y1="432.3" x2="499.72" y2="435.00" stroke="#555" stroke-width="0.9"/>
<line x1="505.56" y1="432.3" x2="505.56" y2="435.00" stroke="#555" stroke-width="0.9"/>
<line x1="511.40" y1="432.3" x2="511.40" y2="435.00" stroke="#555" stroke-width="0.9"/>
<line x1="517.24" y1="432.3" x2="517.24" y2="435.00" stroke="#555" stroke-width="0.9"/>
<line x1="523.08" y1="432.3" x2="523.08" y2="435.00" stroke="#555" stroke-width="0.9"/>
<line x1="528.92" y1="432.3" x2="528.92" y2="435.00" stroke="#555" stroke-width="0.9"/>
<line x1="534.76" y1="432.3" x2="534.76" y2="435.00" stroke="#555" stroke-width="0.9"/>
<line x1="540.60" y1="432.3" x2="540.60" y2="435.00" stroke="#555" stroke-width="0.9"/>
<text transform="translate(58.15,438.20) rotate(-90)" text-anchor="end" font-size="6.5" fill="#1a1a1a" stroke="#1a1a1a" stroke-width="0.12" font-family="'Liberation Sans', sans-serif">29-Jan</text>
<text transform="translate(63.99,438.20) rotate(-90)" text-anchor="end" font-size="6.5" fill="#1a1a1a" stroke="#1a1a1a" stroke-width="0.12" font-family="'Liberation Sans', sans-serif">26-Feb</text>
<text transform="translate(69.83,438.20) rotate(-90)" text-anchor="end" font-size="6.5" fill="#1a1a1a" stroke="#1a1a1a" stroke-width="0.12" font-family="'Liberation Sans', sans-serif">26-Mar</text>
<text transform="translate(75.67,438.20) rotate(-90)" text-anchor="end" font-size="6.5" fill="#1a1a1a" stroke="#1a1a1a" stroke-width="0.12" font-family="'Liberation Sans', sans-serif">30-Apr</text>
<text transform="translate(81.51,438.20) rotate(-90)" text-anchor="end" font-size="6.5" fill="#1a1a1a" stroke="#1a1a1a" stroke-width="0.12" font-family="'Liberation Sans', sans-serif">28-May</text>
<text transform="translate(87.35,438.20) rotate(-90)" text-anchor="end" font-size="6.5" fill="#1a1a1a" stroke="#1a1a1a" stroke-width="0.12" font-family="'Liberation Sans', sans-serif">25-Jun</text>
<text transform="translate(93.20,438.20) rotate(-90)" text-anchor="end" font-size="6.5" fill="#1a1a1a" stroke="#1a1a1a" stroke-width="0.12" font-family="'Liberation Sans', sans-serif">31-Jul</text>
<text transform="translate(99.04,438.20) rotate(-90)" text-anchor="end" font-size="6.5" fill="#1a1a1a" stroke="#1a1a1a" stroke-width="0.12" font-family="'Liberation Sans', sans-serif">27-Aug</text>
<text transform="translate(104.88,438.20) rotate(-90)" text-anchor="end" font-size="6.5" fill="#1a1a1a" stroke="#1a1a1a" stroke-width="0.12" font-family="'Liberation Sans', sans-serif">1-Oct</text>
<text transform="translate(110.72,438.20) rotate(-90)" text-anchor="end" font-size="6.5" fill="#1a1a1a" stroke="#1a1a1a" stroke-width="0.12" font-family="'Liberation Sans', sans-serif">29-Oct</text>
<text transform="translate(116.56,438.20) rotate(-90)" text-anchor="end" font-size="6.5" fill="#1a1a1a" stroke="#1a1a1a" stroke-width="0.12" font-family="'Liberation Sans', sans-serif">26-Nov</text>
<text transform="translate(122.40,438.20) rotate(-90)" text-anchor="end" font-size="6.5" fill="#1a1a1a" stroke="#1a1a1a" stroke-width="0.12" font-family="'Liberation Sans', sans-serif">31-Dec</text>
<text transform="translate(128.24,438.20) rotate(-90)" text-anchor="end" font-size="6.5" fill="#1a1a1a" stroke="#1a1a1a" stroke-width="0.12" font-family="'Liberation Sans', sans-serif">28-Jan</text>
<text transform="translate(134.08,438.20) rotate(-90)" text-anchor="end" font-size="6.5" fill="#1a1a1a" stroke="#1a1a1a" stroke-width="0.12" font-family="'Liberation Sans', sans-serif">25-Feb</text>
<text transform="translate(139.92,438.20) rotate(-90)" text-anchor="end" font-size="6.5" fill="#1a1a1a" stroke="#1a1a1a" stroke-width="0.12" font-family="'Liberation Sans', sans-serif">1-Apr</text>
<text transform="translate(145.77,438.20) rotate(-90)" text-anchor="end" font-size="6.5" fill="#1a1a1a" stroke="#1a1a1a" stroke-width="0.12" font-family="'Liberation Sans', sans-serif">29-Apr</text>
<text transform="translate(151.61,438.20) rotate(-90)" text-anchor="end" font-size="6.5" fill="#1a1a1a" stroke="#1a1a1a" stroke-width="0.12" font-family="'Liberation Sans', sans-serif">27-May</text>
<text transform="translate(157.45,438.20) rotate(-90)" text-anchor="end" font-size="6.5" fill="#1a1a1a" stroke="#1a1a1a" stroke-width="0.12" font-family="'Liberation Sans', sans-serif">1-Jul</text>
<text transform="translate(163.29,438.20) rotate(-90)" text-anchor="end" font-size="6.5" fill="#1a1a1a" stroke="#1a1a1a" stroke-width="0.12" font-family="'Liberation Sans', sans-serif">29-Jul</text>
<text transform="translate(169.13,438.20) rotate(-90)" text-anchor="end" font-size="6.5" fill="#1a1a1a" stroke="#1a1a1a" stroke-width="0.12" font-family="'Liberation Sans', sans-serif">2-Sep</text>
<text transform="translate(174.97,438.20) rotate(-90)" text-anchor="end" font-size="6.5" fill="#1a1a1a" stroke="#1a1a1a" stroke-width="0.12" font-family="'Liberation Sans', sans-serif">30-Sep</text>
<text transform="translate(180.81,438.20) rotate(-90)" text-anchor="end" font-size="6.5" fill="#1a1a1a" stroke="#1a1a1a" stroke-width="0.12" font-family="'Liberation Sans', sans-serif">28-Oct</text>
<text transform="translate(186.65,438.20) rotate(-90)" text-anchor="end" font-size="6.5" fill="#1a1a1a" stroke="#1a1a1a" stroke-width="0.12" font-family="'Liberation Sans', sans-serif">25-Nov</text>
<text transform="translate(192.49,438.20) rotate(-90)" text-anchor="end" font-size="6.5" fill="#1a1a1a" stroke="#1a1a1a" stroke-width="0.12" font-family="'Liberation Sans', sans-serif">30-Dec</text>
<text transform="translate(198.33,438.20) rotate(-90)" text-anchor="end" font-size="6.5" fill="#1a1a1a" stroke="#1a1a1a" stroke-width="0.12" font-family="'Liberation Sans', sans-serif">27-Jan</text>
<text transform="translate(204.17,438.20) rotate(-90)" text-anchor="end" font-size="6.5" fill="#1a1a1a" stroke="#1a1a1a" stroke-width="0.12" font-family="'Liberation Sans', sans-serif">2-Mar</text>
<text transform="translate(210.02,438.20) rotate(-90)" text-anchor="end" font-size="6.5" fill="#1a1a1a" stroke="#1a1a1a" stroke-width="0.12" font-family="'Liberation Sans', sans-serif">30-Mar</text>
<text transform="translate(215.86,438.20) rotate(-90)" text-anchor="end" font-size="6.5" fill="#1a1a1a" stroke="#1a1a1a" stroke-width="0.12" font-family="'Liberation Sans', sans-serif">27-Apr</text>
<text transform="translate(221.70,438.20) rotate(-90)" text-anchor="end" font-size="6.5" fill="#1a1a1a" stroke="#1a1a1a" stroke-width="0.12" font-family="'Liberation Sans', sans-serif">1-Jun</text>
<text transform="translate(227.54,438.20) rotate(-90)" text-anchor="end" font-size="6.5" fill="#1a1a1a" stroke="#1a1a1a" stroke-width="0.12" font-family="'Liberation Sans', sans-serif">29-Jun</text>
<text transform="translate(233.38,438.20) rotate(-90)" text-anchor="end" font-size="6.5" fill="#1a1a1a" stroke="#1a1a1a" stroke-width="0.12" font-family="'Liberation Sans', sans-serif">27-Jul</text>
<text transform="translate(239.22,438.20) rotate(-90)" text-anchor="end" font-size="6.5" fill="#1a1a1a" stroke="#1a1a1a" stroke-width="0.12" font-family="'Liberation Sans', sans-serif">31-Aug</text>
<text transform="translate(245.06,438.20) rotate(-90)" text-anchor="end" font-size="6.5" fill="#1a1a1a" stroke="#1a1a1a" stroke-width="0.12" font-family="'Liberation Sans', sans-serif">28-Sep</text>
<text transform="translate(250.90,438.20) rotate(-90)" text-anchor="end" font-size="6.5" fill="#1a1a1a" stroke="#1a1a1a" stroke-width="0.12" font-family="'Liberation Sans', sans-serif">2-Nov</text>
<text transform="translate(256.74,438.20) rotate(-90)" text-anchor="end" font-size="6.5" fill="#1a1a1a" stroke="#1a1a1a" stroke-width="0.12" font-family="'Liberation Sans', sans-serif">30-Nov</text>
<text transform="translate(262.59,438.20) rotate(-90)" text-anchor="end" font-size="6.5" fill="#1a1a1a" stroke="#1a1a1a" stroke-width="0.12" font-family="'Liberation Sans', sans-serif">28-Dec</text>
<text transform="translate(268.43,438.20) rotate(-90)" text-anchor="end" font-size="6.5" fill="#1a1a1a" stroke="#1a1a1a" stroke-width="0.12" font-family="'Liberation Sans', sans-serif">1-Feb</text>
<text transform="translate(274.27,438.20) rotate(-90)" text-anchor="end" font-size="6.5" fill="#1a1a1a" stroke="#1a1a1a" stroke-width="0.12" font-family="'Liberation Sans', sans-serif">1-Mar</text>
<text transform="translate(280.11,438.20) rotate(-90)" text-anchor="end" font-size="6.5" fill="#1a1a1a" stroke="#1a1a1a" stroke-width="0.12" font-family="'Liberation Sans', sans-serif">29-Mar</text>
<text transform="translate(285.95,438.20) rotate(-90)" text-anchor="end" font-size="6.5" fill="#1a1a1a" stroke="#1a1a1a" stroke-width="0.12" font-family="'Liberation Sans', sans-serif">26-Apr</text>
<text transform="translate(291.79,438.20) rotate(-90)" text-anchor="end" font-size="6.5" fill="#1a1a1a" stroke="#1a1a1a" stroke-width="0.12" font-family="'Liberation Sans', sans-serif">2-Jun</text>
<text transform="translate(297.63,438.20) rotate(-90)" text-anchor="end" font-size="6.5" fill="#1a1a1a" stroke="#1a1a1a" stroke-width="0.12" font-family="'Liberation Sans', sans-serif">30-Jun</text>
<text transform="translate(303.47,438.20) rotate(-90)" text-anchor="end" font-size="6.5" fill="#1a1a1a" stroke="#1a1a1a" stroke-width="0.12" font-family="'Liberation Sans', sans-serif">28-Jul</text>
<text transform="translate(309.31,438.20) rotate(-90)" text-anchor="end" font-size="6.5" fill="#1a1a1a" stroke="#1a1a1a" stroke-width="0.12" font-family="'Liberation Sans', sans-serif">1-Sep</text>
<text transform="translate(315.15,438.20) rotate(-90)" text-anchor="end" font-size="6.5" fill="#1a1a1a" stroke="#1a1a1a" stroke-width="0.12" font-family="'Liberation Sans', sans-serif">29-Sep</text>
<text transform="translate(321.00,438.20) rotate(-90)" text-anchor="end" font-size="6.5" fill="#1a1a1a" stroke="#1a1a1a" stroke-width="0.12" font-family="'Liberation Sans', sans-serif">3-Nov</text>
<text transform="translate(326.84,438.20) rotate(-90)" text-anchor="end" font-size="6.5" fill="#1a1a1a" stroke="#1a1a1a" stroke-width="0.12" font-family="'Liberation Sans', sans-serif">1-Dec</text>
<text transform="translate(332.68,438.20) rotate(-90)" text-anchor="end" font-size="6.5" fill="#1a1a1a" stroke="#1a1a1a" stroke-width="0.12" font-family="'Liberation Sans', sans-serif">29-Dec</text>
<text transform="translate(338.52,438.20) rotate(-90)" text-anchor="end" font-size="6.5" fill="#1a1a1a" stroke="#1a1a1a" stroke-width="0.12" font-family="'Liberation Sans', sans-serif">2-Feb</text>
<text transform="translate(344.36,438.20) rotate(-90)" text-anchor="end" font-size="6.5" fill="#1a1a1a" stroke="#1a1a1a" stroke-width="0.12" font-family="'Liberation Sans', sans-serif">2-Mar</text>
<text transform="translate(350.20,438.20) rotate(-90)" text-anchor="end" font-size="6.5" fill="#1a1a1a" stroke="#1a1a1a" stroke-width="0.12" font-family="'Liberation Sans', sans-serif">30-Mar</text>
<text transform="translate(356.04,438.20) rotate(-90)" text-anchor="end" font-size="6.5" fill="#1a1a1a" stroke="#1a1a1a" stroke-width="0.12" font-family="'Liberation Sans', sans-serif">27-Apr</text>
<text transform="translate(361.88,438.20) rotate(-90)" text-anchor="end" font-size="6.5" fill="#1a1a1a" stroke="#1a1a1a" stroke-width="0.12" font-family="'Liberation Sans', sans-serif">1-Jun</text>
<text transform="translate(367.72,438.20) rotate(-90)" text-anchor="end" font-size="6.5" fill="#1a1a1a" stroke="#1a1a1a" stroke-width="0.12" font-family="'Liberation Sans', sans-serif">29-Jun</text>
<text transform="translate(373.56,438.20) rotate(-90)" text-anchor="end" font-size="6.5" fill="#1a1a1a" stroke="#1a1a1a" stroke-width="0.12" font-family="'Liberation Sans', sans-serif">3-Aug</text>
<text transform="translate(379.41,438.20) rotate(-90)" text-anchor="end" font-size="6.5" fill="#1a1a1a" stroke="#1a1a1a" stroke-width="0.12" font-family="'Liberation Sans', sans-serif">31-Aug</text>
<text transform="translate(385.25,438.20) rotate(-90)" text-anchor="end" font-size="6.5" fill="#1a1a1a" stroke="#1a1a1a" stroke-width="0.12" font-family="'Liberation Sans', sans-serif">28-Sep</text>
<text transform="translate(391.09,438.20) rotate(-90)" text-anchor="end" font-size="6.5" fill="#1a1a1a" stroke="#1a1a1a" stroke-width="0.12" font-family="'Liberation Sans', sans-serif">2-Nov</text>
<text transform="translate(396.93,438.20) rotate(-90)" text-anchor="end" font-size="6.5" fill="#1a1a1a" stroke="#1a1a1a" stroke-width="0.12" font-family="'Liberation Sans', sans-serif">30-Nov</text>
<text transform="translate(402.77,438.20) rotate(-90)" text-anchor="end" font-size="6.5" fill="#1a1a1a" stroke="#1a1a1a" stroke-width="0.12" font-family="'Liberation Sans', sans-serif">28-Dec</text>
<text transform="translate(408.61,438.20) rotate(-90)" text-anchor="end" font-size="6.5" fill="#1a1a1a" stroke="#1a1a1a" stroke-width="0.12" font-family="'Liberation Sans', sans-serif">1-Feb</text>
<text transform="translate(414.45,438.20) rotate(-90)" text-anchor="end" font-size="6.5" fill="#1a1a1a" stroke="#1a1a1a" stroke-width="0.12" font-family="'Liberation Sans', sans-serif">1-Mar</text>
<text transform="translate(420.29,438.20) rotate(-90)" text-anchor="end" font-size="6.5" fill="#1a1a1a" stroke="#1a1a1a" stroke-width="0.12" font-family="'Liberation Sans', sans-serif">29-Mar</text>
<text transform="translate(426.13,438.20) rotate(-90)" text-anchor="end" font-size="6.5" fill="#1a1a1a" stroke="#1a1a1a" stroke-width="0.12" font-family="'Liberation Sans', sans-serif">3-May</text>
<text transform="translate(431.97,438.20) rotate(-90)" text-anchor="end" font-size="6.5" fill="#1a1a1a" stroke="#1a1a1a" stroke-width="0.12" font-family="'Liberation Sans', sans-serif">31-May</text>
<text transform="translate(437.82,438.20) rotate(-90)" text-anchor="end" font-size="6.5" fill="#1a1a1a" stroke="#1a1a1a" stroke-width="0.12" font-family="'Liberation Sans', sans-serif">28-Jun</text>
<text transform="translate(443.66,438.20) rotate(-90)" text-anchor="end" font-size="6.5" fill="#1a1a1a" stroke="#1a1a1a" stroke-width="0.12" font-family="'Liberation Sans', sans-serif">2-Aug</text>
<text transform="translate(449.50,438.20) rotate(-90)" text-anchor="end" font-size="6.5" fill="#1a1a1a" stroke="#1a1a1a" stroke-width="0.12" font-family="'Liberation Sans', sans-serif">30-Aug</text>
<text transform="translate(455.34,438.20) rotate(-90)" text-anchor="end" font-size="6.5" fill="#1a1a1a" stroke="#1a1a1a" stroke-width="0.12" font-family="'Liberation Sans', sans-serif">4-Oct</text>
<text transform="translate(461.18,438.20) rotate(-90)" text-anchor="end" font-size="6.5" fill="#1a1a1a" stroke="#1a1a1a" stroke-width="0.12" font-family="'Liberation Sans', sans-serif">1-Nov</text>
<text transform="translate(467.02,438.20) rotate(-90)" text-anchor="end" font-size="6.5" fill="#1a1a1a" stroke="#1a1a1a" stroke-width="0.12" font-family="'Liberation Sans', sans-serif">29-Nov</text>
<text transform="translate(472.86,438.20) rotate(-90)" text-anchor="end" font-size="6.5" fill="#1a1a1a" stroke="#1a1a1a" stroke-width="0.12" font-family="'Liberation Sans', sans-serif">3-Jan</text>
<text transform="translate(478.70,438.20) rotate(-90)" text-anchor="end" font-size="6.5" fill="#1a1a1a" stroke="#1a1a1a" stroke-width="0.12" font-family="'Liberation Sans', sans-serif">31-Jan</text>
<text transform="translate(484.54,438.20) rotate(-90)" text-anchor="end" font-size="6.5" fill="#1a1a1a" stroke="#1a1a1a" stroke-width="0.12" font-family="'Liberation Sans', sans-serif">28-Feb</text>
<text transform="translate(490.38,438.20) rotate(-90)" text-anchor="end" font-size="6.5" fill="#1a1a1a" stroke="#1a1a1a" stroke-width="0.12" font-family="'Liberation Sans', sans-serif">3-Apr</text>
<text transform="translate(496.23,438.20) rotate(-90)" text-anchor="end" font-size="6.5" fill="#1a1a1a" stroke="#1a1a1a" stroke-width="0.12" font-family="'Liberation Sans', sans-serif">1-May</text>
<text transform="translate(502.07,438.20) rotate(-90)" text-anchor="end" font-size="6.5" fill="#1a1a1a" stroke="#1a1a1a" stroke-width="0.12" font-family="'Liberation Sans', sans-serif">29-May</text>
<text transform="translate(507.91,438.20) rotate(-90)" text-anchor="end" font-size="6.5" fill="#1a1a1a" stroke="#1a1a1a" stroke-width="0.12" font-family="'Liberation Sans', sans-serif">3-Jul</text>
<text transform="translate(513.75,438.20) rotate(-90)" text-anchor="end" font-size="6.5" fill="#1a1a1a" stroke="#1a1a1a" stroke-width="0.12" font-family="'Liberation Sans', sans-serif">31-Jul</text>
<text transform="translate(519.59,438.20) rotate(-90)" text-anchor="end" font-size="6.5" fill="#1a1a1a" stroke="#1a1a1a" stroke-width="0.12" font-family="'Liberation Sans', sans-serif">28-Aug</text>
<text transform="translate(525.43,438.20) rotate(-90)" text-anchor="end" font-size="6.5" fill="#1a1a1a" stroke="#1a1a1a" stroke-width="0.12" font-family="'Liberation Sans', sans-serif">2-Oct</text>
<text transform="translate(531.27,438.20) rotate(-90)" text-anchor="end" font-size="6.5" fill="#1a1a1a" stroke="#1a1a1a" stroke-width="0.12" font-family="'Liberation Sans', sans-serif">30-Oct</text>
<text transform="translate(537.11,438.20) rotate(-90)" text-anchor="end" font-size="6.5" fill="#1a1a1a" stroke="#1a1a1a" stroke-width="0.12" font-family="'Liberation Sans', sans-serif">4-Dec</text>
<text transform="translate(542.95,438.20) rotate(-90)" text-anchor="end" font-size="6.5" fill="#1a1a1a" stroke="#1a1a1a" stroke-width="0.12" font-family="'Liberation Sans', sans-serif">1-Jan</text>
<line x1="55.80" y1="465.10" x2="120.05" y2="465.10" stroke="#8a8a8a" stroke-width="1.6"/>
<text x="87.48" y="480.20" text-anchor="middle" font-size="14.1" textLength="30.7" stroke="#111" stroke-width="0.2" lengthAdjust="spacingAndGlyphs" fill="#111" font-family="'Liberation Sans', sans-serif">2010</text>
<line x1="125.89" y1="465.10" x2="190.14" y2="465.10" stroke="#8a8a8a" stroke-width="1.6"/>
<text x="157.57" y="480.20" text-anchor="middle" font-size="14.1" textLength="30.7" stroke="#111" stroke-width="0.2" lengthAdjust="spacingAndGlyphs" fill="#111" font-family="'Liberation Sans', sans-serif">2011</text>
<line x1="195.98" y1="465.10" x2="260.24" y2="465.10" stroke="#8a8a8a" stroke-width="1.6"/>
<text x="227.66" y="480.20" text-anchor="middle" font-size="14.1" textLength="30.7" stroke="#111" stroke-width="0.2" lengthAdjust="spacingAndGlyphs" fill="#111" font-family="'Liberation Sans', sans-serif">2012</text>
<line x1="266.08" y1="465.10" x2="330.33" y2="465.10" stroke="#8a8a8a" stroke-width="1.6"/>
<text x="297.75" y="480.20" text-anchor="middle" font-size="14.1" textLength="30.7" stroke="#111" stroke-width="0.2" lengthAdjust="spacingAndGlyphs" fill="#111" font-family="'Liberation Sans', sans-serif">2013</text>
<line x1="336.17" y1="465.10" x2="400.42" y2="465.10" stroke="#8a8a8a" stroke-width="1.6"/>
<text x="367.84" y="480.20" text-anchor="middle" font-size="14.1" textLength="30.7" stroke="#111" stroke-width="0.2" lengthAdjust="spacingAndGlyphs" fill="#111" font-family="'Liberation Sans', sans-serif">2014</text>
<line x1="406.26" y1="465.10" x2="470.51" y2="465.10" stroke="#8a8a8a" stroke-width="1.6"/>
<text x="437.94" y="480.20" text-anchor="middle" font-size="14.1" textLength="30.7" stroke="#111" stroke-width="0.2" lengthAdjust="spacingAndGlyphs" fill="#111" font-family="'Liberation Sans', sans-serif">2015</text>
<line x1="476.35" y1="465.10" x2="540.60" y2="465.10" stroke="#8a8a8a" stroke-width="1.6"/>
<text x="508.03" y="480.20" text-anchor="middle" font-size="14.1" textLength="30.7" stroke="#111" stroke-width="0.2" lengthAdjust="spacingAndGlyphs" fill="#111" font-family="'Liberation Sans', sans-serif">2016</text>
<rect x="63.00" y="36.80" width="14.80" height="7.90" fill="#2253a6"/>
<rect x="63.00" y="52.90" width="14.80" height="8.00" fill="#ff1a1f"/>
<text x="82.4" y="46.1" font-size="11.2" textLength="31.7" lengthAdjust="spacingAndGlyphs" fill="#111" font-family="'Liberation Sans', sans-serif">RSVA</text>
<text x="82.4" y="61.6" font-size="11.2" textLength="31.3" lengthAdjust="spacingAndGlyphs" fill="#111" font-family="'Liberation Sans', sans-serif">RSVB</text>
<rect x="62.80" y="270.90" width="15.30" height="7.80" fill="#ff8a00"/>
<rect x="62.80" y="286.90" width="15.30" height="8.20" fill="#0c8540"/>
<rect x="62.80" y="303.10" width="15.30" height="8.40" fill="#cfd0d2"/>
<text x="86.5" y="278.6" font-size="11.2" textLength="22.9" lengthAdjust="spacingAndGlyphs" fill="#111" font-family="'Liberation Sans', sans-serif">RSV</text>
<text x="86.5" y="294.7" font-size="11.2" textLength="46.1" lengthAdjust="spacingAndGlyphs" fill="#111" font-family="'Liberation Sans', sans-serif">Influenza</text>
<text x="86.5" y="310.3" font-size="11.2" textLength="28.4" lengthAdjust="spacingAndGlyphs" fill="#111" font-family="'Liberation Sans', sans-serif">Other</text>
<text transform="translate(26.7,174.8) rotate(-90)" font-size="12.2" textLength="121.4" lengthAdjust="spacingAndGlyphs" fill="#3c3c3c" font-family="'Liberation Sans', sans-serif">Number of sequences</text>
<text transform="translate(20.7,419.8) rotate(-90)" font-size="12.6" textLength="136.1" lengthAdjust="spacingAndGlyphs" fill="#3c3c3c" font-family="'Liberation Sans', sans-serif">Positives per 1,000 tests</text>
</svg>
</body></html>
